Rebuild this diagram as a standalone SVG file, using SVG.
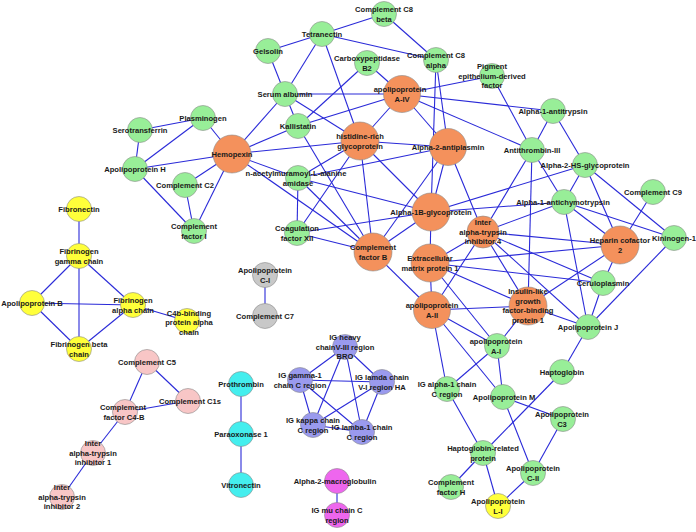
<svg xmlns="http://www.w3.org/2000/svg" width="696" height="532" viewBox="0 0 696 532">
<style>
.e line{stroke:#2a2ad8;stroke-width:1.1}
circle{stroke:#8a8a8a;stroke-width:0.6}
.gr circle{fill:#98ee98}
.or circle{fill:#f4915c}
.ye circle{fill:#ffff3a}
.pk circle{fill:#f8c6c6}
.gy circle{fill:#c8c8c8}
.pu circle{fill:#9a9aee}
.cy circle{fill:#44eeee}
.mg circle{fill:#ee66ee}
text{font-family:"Liberation Sans",Arial,sans-serif;font-size:7.6px;font-weight:bold;fill:#1a1a1a;text-anchor:middle;dominant-baseline:central}
</style>
<rect width="696" height="532" fill="#ffffff"/>
<g class="e" id="connectors">
<line x1="322" y1="34" x2="384" y2="14"/>
<line x1="322" y1="34" x2="268" y2="51"/>
<line x1="322" y1="34" x2="436" y2="60"/>
<line x1="322" y1="34" x2="285" y2="94"/>
<line x1="322" y1="34" x2="360" y2="141"/>
<line x1="384" y1="14" x2="436" y2="60"/>
<line x1="268" y1="51" x2="285" y2="94"/>
<line x1="367" y1="63" x2="402" y2="94"/>
<line x1="367" y1="63" x2="298" y2="126"/>
<line x1="436" y1="60" x2="448" y2="147"/>
<line x1="436" y1="60" x2="431" y2="212"/>
<line x1="492" y1="76" x2="402" y2="94"/>
<line x1="492" y1="76" x2="532" y2="150"/>
<line x1="285" y1="94" x2="402" y2="94"/>
<line x1="285" y1="94" x2="232" y2="154"/>
<line x1="285" y1="94" x2="298" y2="126"/>
<line x1="285" y1="94" x2="360" y2="141"/>
<line x1="402" y1="94" x2="298" y2="126"/>
<line x1="402" y1="94" x2="360" y2="141"/>
<line x1="402" y1="94" x2="553" y2="111"/>
<line x1="402" y1="94" x2="532" y2="150"/>
<line x1="402" y1="94" x2="448" y2="147"/>
<line x1="203" y1="118" x2="140" y2="130"/>
<line x1="203" y1="118" x2="232" y2="154"/>
<line x1="203" y1="118" x2="135" y2="169"/>
<line x1="298" y1="126" x2="232" y2="154"/>
<line x1="298" y1="126" x2="373" y2="252"/>
<line x1="140" y1="130" x2="135" y2="169"/>
<line x1="553" y1="111" x2="532" y2="150"/>
<line x1="553" y1="111" x2="585" y2="165"/>
<line x1="360" y1="141" x2="232" y2="154"/>
<line x1="360" y1="141" x2="448" y2="147"/>
<line x1="360" y1="141" x2="298" y2="178"/>
<line x1="360" y1="141" x2="297" y2="233"/>
<line x1="360" y1="141" x2="373" y2="252"/>
<line x1="360" y1="141" x2="431" y2="212"/>
<line x1="448" y1="147" x2="298" y2="178"/>
<line x1="448" y1="147" x2="373" y2="252"/>
<line x1="448" y1="147" x2="431" y2="212"/>
<line x1="448" y1="147" x2="483" y2="232"/>
<line x1="232" y1="154" x2="135" y2="169"/>
<line x1="232" y1="154" x2="185" y2="185"/>
<line x1="232" y1="154" x2="194" y2="231"/>
<line x1="232" y1="154" x2="298" y2="178"/>
<line x1="232" y1="154" x2="373" y2="252"/>
<line x1="532" y1="150" x2="528" y2="306"/>
<line x1="532" y1="150" x2="483" y2="232"/>
<line x1="532" y1="150" x2="564" y2="202"/>
<line x1="585" y1="165" x2="564" y2="202"/>
<line x1="585" y1="165" x2="431" y2="212"/>
<line x1="585" y1="165" x2="620" y2="245"/>
<line x1="585" y1="165" x2="674" y2="238"/>
<line x1="135" y1="169" x2="194" y2="231"/>
<line x1="185" y1="185" x2="194" y2="231"/>
<line x1="298" y1="178" x2="297" y2="233"/>
<line x1="298" y1="178" x2="373" y2="252"/>
<line x1="298" y1="178" x2="431" y2="212"/>
<line x1="653" y1="192" x2="620" y2="245"/>
<line x1="564" y1="202" x2="431" y2="212"/>
<line x1="564" y1="202" x2="620" y2="245"/>
<line x1="564" y1="202" x2="674" y2="238"/>
<line x1="564" y1="202" x2="588" y2="327"/>
<line x1="564" y1="202" x2="483" y2="232"/>
<line x1="431" y1="212" x2="373" y2="252"/>
<line x1="431" y1="212" x2="430" y2="263"/>
<line x1="431" y1="212" x2="297" y2="233"/>
<line x1="483" y1="232" x2="430" y2="263"/>
<line x1="483" y1="232" x2="432" y2="310"/>
<line x1="483" y1="232" x2="528" y2="306"/>
<line x1="483" y1="232" x2="620" y2="245"/>
<line x1="483" y1="232" x2="603" y2="283"/>
<line x1="483" y1="232" x2="588" y2="327"/>
<line x1="297" y1="233" x2="373" y2="252"/>
<line x1="620" y1="245" x2="430" y2="263"/>
<line x1="620" y1="245" x2="528" y2="306"/>
<line x1="620" y1="245" x2="603" y2="283"/>
<line x1="674" y1="238" x2="588" y2="327"/>
<line x1="373" y1="252" x2="432" y2="310"/>
<line x1="430" y1="263" x2="432" y2="310"/>
<line x1="430" y1="263" x2="528" y2="306"/>
<line x1="430" y1="263" x2="603" y2="283"/>
<line x1="430" y1="263" x2="497" y2="346"/>
<line x1="603" y1="283" x2="588" y2="327"/>
<line x1="432" y1="310" x2="528" y2="306"/>
<line x1="432" y1="310" x2="497" y2="346"/>
<line x1="432" y1="310" x2="503" y2="397"/>
<line x1="432" y1="310" x2="447" y2="389"/>
<line x1="528" y1="306" x2="588" y2="327"/>
<line x1="528" y1="306" x2="497" y2="346"/>
<line x1="588" y1="327" x2="562" y2="372"/>
<line x1="497" y1="346" x2="447" y2="389"/>
<line x1="497" y1="346" x2="503" y2="397"/>
<line x1="562" y1="372" x2="483" y2="453"/>
<line x1="447" y1="389" x2="483" y2="453"/>
<line x1="503" y1="397" x2="563" y2="419"/>
<line x1="503" y1="397" x2="533" y2="473"/>
<line x1="563" y1="419" x2="533" y2="473"/>
<line x1="483" y1="453" x2="451" y2="487"/>
<line x1="483" y1="453" x2="498" y2="506"/>
<line x1="533" y1="473" x2="498" y2="506"/>
<line x1="79" y1="209" x2="79" y2="256"/>
<line x1="79" y1="256" x2="32" y2="303"/>
<line x1="79" y1="256" x2="133" y2="305"/>
<line x1="79" y1="256" x2="79" y2="349"/>
<line x1="32" y1="303" x2="133" y2="305"/>
<line x1="32" y1="303" x2="79" y2="349"/>
<line x1="133" y1="305" x2="79" y2="349"/>
<line x1="133" y1="305" x2="187" y2="321"/>
<line x1="265" y1="275" x2="265" y2="316"/>
<line x1="147" y1="362" x2="188" y2="401"/>
<line x1="147" y1="362" x2="125" y2="412"/>
<line x1="125" y1="412" x2="188" y2="401"/>
<line x1="125" y1="412" x2="93" y2="453"/>
<line x1="93" y1="453" x2="62" y2="497"/>
<line x1="345" y1="347" x2="300" y2="380"/>
<line x1="345" y1="347" x2="382" y2="382"/>
<line x1="345" y1="347" x2="313" y2="425"/>
<line x1="345" y1="347" x2="362" y2="432"/>
<line x1="300" y1="380" x2="382" y2="382"/>
<line x1="300" y1="380" x2="313" y2="425"/>
<line x1="300" y1="380" x2="362" y2="432"/>
<line x1="382" y1="382" x2="313" y2="425"/>
<line x1="382" y1="382" x2="362" y2="432"/>
<line x1="313" y1="425" x2="362" y2="432"/>
<line x1="241" y1="384" x2="241" y2="434"/>
<line x1="241" y1="434" x2="241" y2="485"/>
<line x1="337" y1="481" x2="337" y2="515"/>
</g>

<g class="gr">
<g id="complement-c8-beta"><circle cx="384" cy="14" r="12.5"/><text x="384" y="9.5">Complement C8</text><text x="384" y="19">beta</text></g>
<g id="tetranectin"><circle cx="322" cy="34" r="12.5"/><text x="322" y="34">Tetranectin</text></g>
<g id="gelsolin"><circle cx="268" cy="51" r="12.5"/><text x="268" y="51">Gelsolin</text></g>
<g id="carboxypeptidase-b2"><circle cx="367" cy="63" r="12.5"/><text x="367" y="58.5">Carboxypeptidase</text><text x="367" y="68">B2</text></g>
<g id="complement-c8-alpha"><circle cx="436" cy="60" r="12.5"/><text x="436" y="55.5">Complement C8</text><text x="436" y="65">alpha</text></g>
<g id="pedf"><circle cx="492" cy="76" r="12.5"/><text x="492" y="66.5">Pigment</text><text x="492" y="76">epithelium-derived</text><text x="492" y="85.5">factor</text></g>
<g id="serum-albumin"><circle cx="285" cy="94" r="12.5"/><text x="285" y="94">Serum albumin</text></g>
<g id="plasminogen"><circle cx="203" cy="118" r="12.5"/><text x="203" y="118">Plasminogen</text></g>
<g id="kallistatin"><circle cx="298" cy="126" r="12.5"/><text x="298" y="126">Kallistatin</text></g>
<g id="serotransferrin"><circle cx="140" cy="130" r="12.5"/><text x="140" y="130">Serotransferrin</text></g>
<g id="alpha-1-antitrypsin"><circle cx="553" cy="111" r="12.5"/><text x="553" y="111">Alpha-1-antitrypsin</text></g>
<g id="antithrombin-iii"><circle cx="532" cy="150" r="12.5"/><text x="532" y="150">Antithrombin-III</text></g>
<g id="alpha-2-hs-glycoprotein"><circle cx="585" cy="165" r="12.5"/><text x="585" y="165">Alpha-2-HS-glycoprotein</text></g>
<g id="apolipoprotein-h"><circle cx="135" cy="169" r="12.5"/><text x="135" y="169">Apolipoprotein H</text></g>
<g id="complement-c2"><circle cx="185" cy="185" r="12.5"/><text x="185" y="185">Complement C2</text></g>
<g id="amidase"><circle cx="298" cy="178" r="12.5"/><text x="296" y="173.5">n-acetylmuramoyl-L-alanine</text><text x="298" y="183">amidase</text></g>
<g id="complement-c9"><circle cx="653" cy="192" r="12.5"/><text x="653" y="192">Complement C9</text></g>
<g id="alpha-1-antichymotrypsin"><circle cx="564" cy="202" r="12.5"/><text x="563" y="202">Alpha-1-antichymotrypsin</text></g>
<g id="complement-factor-i"><circle cx="194" cy="231" r="12.5"/><text x="194" y="226.5">Complement</text><text x="194" y="236">factor I</text></g>
<g id="coagulation-factor-xii"><circle cx="297" cy="233" r="12.5"/><text x="297" y="228.5">Coagulation</text><text x="297" y="238">factor XII</text></g>
<g id="kininogen-1"><circle cx="674" cy="238" r="12.5"/><text x="674" y="238">Kininogen-1</text></g>
<g id="ceruloplasmin"><circle cx="603" cy="283" r="12.5"/><text x="603" y="283">Ceruloplasmin</text></g>
<g id="apolipoprotein-j"><circle cx="588" cy="327" r="12.5"/><text x="588" y="327">Apolipoprotein J</text></g>
<g id="apolipoprotein-a-i"><circle cx="497" cy="346" r="12.5"/><text x="496" y="341.5">apolipoprotein</text><text x="496" y="351">A-I</text></g>
<g id="haptoglobin"><circle cx="562" cy="372" r="12.5"/><text x="562" y="372">Haptoglobin</text></g>
<g id="ig-alpha-1-chain"><circle cx="447" cy="389" r="12.5"/><text x="447" y="384.5">IG alpha-1 chain</text><text x="447" y="394">C region</text></g>
<g id="apolipoprotein-m"><circle cx="503" cy="397" r="12.5"/><text x="504" y="397">Apolipoprotein M</text></g>
<g id="apolipoprotein-c3"><circle cx="563" cy="419" r="12.5"/><text x="562" y="414.5">Apolipoprotein</text><text x="562" y="424">C3</text></g>
<g id="haptoglobin-related-protein"><circle cx="483" cy="453" r="12.5"/><text x="483" y="448.5">Haptoglobin-related</text><text x="483" y="458">protein</text></g>
<g id="apolipoprotein-c-ii"><circle cx="533" cy="473" r="12.5"/><text x="533" y="468.5">Apolipoprotein</text><text x="533" y="478">C-II</text></g>
<g id="complement-factor-h"><circle cx="451" cy="487" r="12.5"/><text x="451" y="482.5">Complement</text><text x="451" y="492">factor H</text></g>
</g>

<g class="or">
<g id="apolipoprotein-a-iv"><circle cx="402" cy="94" r="18.5"/><text x="400" y="89.5">apolipoprotein</text><text x="402" y="99">A-IV</text></g>
<g id="histidine-rich-glycoprotein"><circle cx="360" cy="141" r="19"/><text x="360" y="136.5">histidine-rich</text><text x="360" y="146">glycoprotein</text></g>
<g id="alpha-2-antiplasmin"><circle cx="448" cy="147" r="18.5"/><text x="448" y="147">Alpha-2-antiplasmin</text></g>
<g id="hemopexin"><circle cx="232" cy="154" r="19"/><text x="232" y="154">Hemopexin</text></g>
<g id="alpha-1b-glycoprotein"><circle cx="431" cy="212" r="19"/><text x="431" y="212">Alpha-1B-glycoprotein</text></g>
<g id="inter-alpha-trypsin-inhibitor-4"><circle cx="483" cy="232" r="16"/><text x="483" y="222.5">Inter</text><text x="483" y="232">alpha-trypsin</text><text x="483" y="241.5">inhibitor 4</text></g>
<g id="heparin-cofactor-2"><circle cx="620" cy="245" r="19"/><text x="620" y="240.5">Heparin cofactor</text><text x="620" y="250">2</text></g>
<g id="complement-factor-b"><circle cx="373" cy="252" r="19"/><text x="373" y="247.5">Complement</text><text x="373" y="257">factor B</text></g>
<g id="extracellular-matrix-protein-1"><circle cx="430" cy="263" r="19"/><text x="430" y="258.5">Extracellular</text><text x="430" y="268">matrix protein 1</text></g>
<g id="apolipoprotein-a-ii"><circle cx="432" cy="310" r="18.5"/><text x="432" y="305.5">apolipoprotein</text><text x="432" y="315">A-II</text></g>
<g id="igfbp1"><circle cx="528" cy="306" r="19"/><text x="528" y="291.75">Insulin-like</text><text x="528" y="301.25">growth</text><text x="528" y="310.75">factor-binding</text><text x="528" y="320.25">protein 1</text></g>
</g>

<g class="ye">
<g id="apolipoprotein-l-i"><circle cx="498" cy="506" r="12.5"/><text x="498" y="501.5">Apolipoprotein</text><text x="498" y="511">L-I</text></g>
<g id="fibronectin"><circle cx="79" cy="209" r="12.5"/><text x="79" y="209">Fibronectin</text></g>
<g id="fibrinogen-gamma-chain"><circle cx="79" cy="256" r="12.5"/><text x="79" y="251.5">Fibrinogen</text><text x="79" y="261">gamma chain</text></g>
<g id="apolipoprotein-b"><circle cx="32" cy="303" r="12.5"/><text x="32" y="303">Apolipoprotein B</text></g>
<g id="fibrinogen-alpha-chain"><circle cx="133" cy="305" r="12.5"/><text x="133" y="300.5">Fibrinogen</text><text x="133" y="310">alpha chain</text></g>
<g id="c4b-binding-protein-alpha-chain"><circle cx="187" cy="321" r="12.5"/><text x="189" y="313">C4b-binding</text><text x="189" y="322.5">protein alpha</text><text x="189" y="332">chain</text></g>
<g id="fibrinogen-beta-chain"><circle cx="79" cy="349" r="12.5"/><text x="79" y="344.5">Fibrinogen beta</text><text x="79" y="354">chain</text></g>
</g>

<g class="gy">
<g id="apolipoprotein-c-i"><circle cx="265" cy="275" r="12.5"/><text x="265" y="270.5">Apolipoprotein</text><text x="265" y="280">C-I</text></g>
<g id="complement-c7"><circle cx="265" cy="316" r="12.5"/><text x="265" y="316">Complement C7</text></g>
</g>

<g class="pk">
<g id="complement-c5"><circle cx="147" cy="362" r="12.5"/><text x="147" y="362">Complement C5</text></g>
<g id="complement-c1s"><circle cx="188" cy="401" r="12.5"/><text x="190" y="401">Complement C1s</text></g>
<g id="complement-factor-c4-b"><circle cx="125" cy="412" r="12.5"/><text x="123" y="407.5">Complement</text><text x="124" y="417">factor C4-B</text></g>
<g id="inter-alpha-trypsin-inhibitor-1"><circle cx="93" cy="453" r="12.5"/><text x="93" y="443.5">Inter</text><text x="93" y="453">alpha-trypsin</text><text x="93" y="462.5">inhibitor 1</text></g>
<g id="inter-alpha-trypsin-inhibitor-2"><circle cx="62" cy="497" r="12.5"/><text x="62" y="487.5">Inter</text><text x="62" y="497">alpha-trypsin</text><text x="62" y="506.5">inhibitor 2</text></g>
</g>

<g class="pu">
<g id="ig-heavy-chain-v-iii-bro"><circle cx="345" cy="347" r="12.5"/><text x="345" y="337.5">IG heavy</text><text x="345" y="347">chainV-III region</text><text x="345" y="356.5">BRO</text></g>
<g id="ig-gamma-1-chain"><circle cx="300" cy="380" r="12.5"/><text x="300" y="375.5">IG gamma-1</text><text x="300" y="385">chain C region</text></g>
<g id="ig-lamda-chain-v-i"><circle cx="382" cy="382" r="12.5"/><text x="382" y="377.5">IG lamda chain</text><text x="382" y="387">V-I region HA</text></g>
<g id="ig-kappa-chain"><circle cx="313" cy="425" r="12.5"/><text x="313" y="420.5">IG kappa chain</text><text x="313" y="430">C region</text></g>
<g id="ig-lamba-1-chain"><circle cx="362" cy="432" r="12.5"/><text x="362" y="427.5">IG lamba-1 chain</text><text x="362" y="437">C region</text></g>
</g>

<g class="cy">
<g id="prothrombin"><circle cx="241" cy="384" r="12.5"/><text x="241" y="384">Prothrombin</text></g>
<g id="paraoxonase-1"><circle cx="241" cy="434" r="12.5"/><text x="241" y="434">Paraoxonase 1</text></g>
<g id="vitronectin"><circle cx="241" cy="485" r="12.5"/><text x="241" y="485">Vitronectin</text></g>
</g>

<g class="mg">
<g id="alpha-2-macroglobulin"><circle cx="337" cy="481" r="12.5"/><text x="335" y="481">Alpha-2-macroglobulin</text></g>
<g id="ig-mu-chain"><circle cx="337" cy="515" r="12.5"/><text x="337" y="510.5">IG mu chain C</text><text x="337" y="520">region</text></g>
</g>
</svg>
